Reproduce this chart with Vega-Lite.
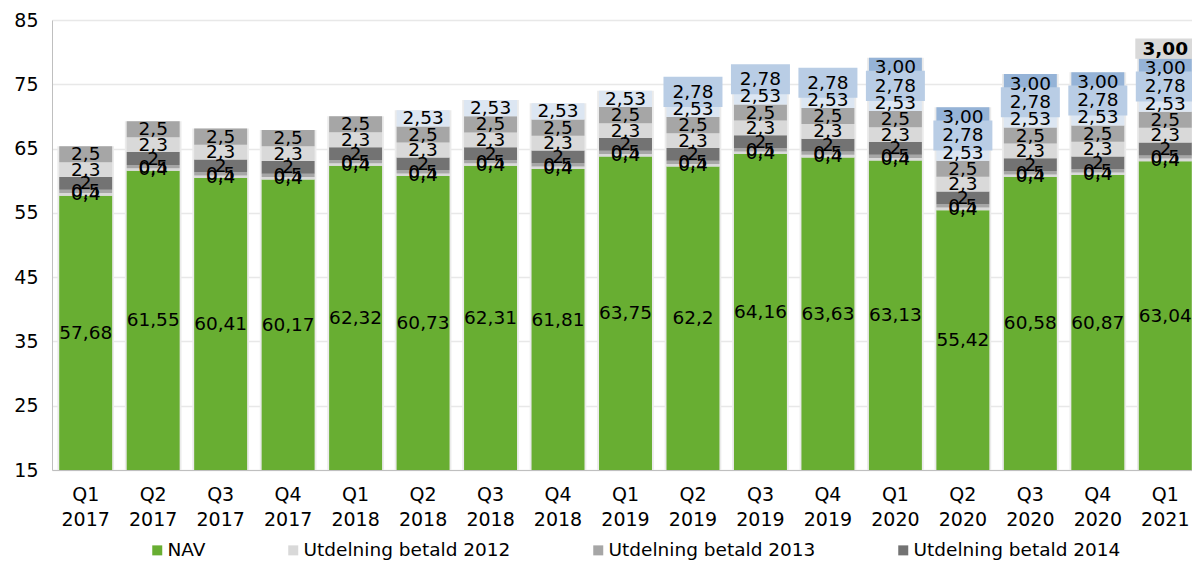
{
  "$schema": "https://vega.github.io/schema/vega-lite/v6.json",
  "width": 1147,
  "height": 450,
  "autosize": {"type": "none"},
  "padding": {"left": 52, "top": 20, "right": 0, "bottom": 92},
  "background": "#ffffff",
  "config": {"view": {"stroke": null}, "font": "DejaVu Sans"},
  "data": {"values": [
    {"q":"Q1 2017","s":"NAV","v":57.68,"t":"57,68"},
    {"q":"Q1 2017","s":"Utdelning betald 2012","v":0.4,"t":"0,4"},
    {"q":"Q1 2017","s":"Utdelning betald 2013","v":0.5,"t":"0,5"},
    {"q":"Q1 2017","s":"Utdelning betald 2014","v":2,"t":"2"},
    {"q":"Q1 2017","s":"Utdelning betald 2015","v":2.3,"t":"2,3"},
    {"q":"Q1 2017","s":"Utdelning betald 2016","v":2.5,"t":"2,5"},
    {"q":"Q2 2017","s":"NAV","v":61.55,"t":"61,55"},
    {"q":"Q2 2017","s":"Utdelning betald 2012","v":0.4,"t":"0,4"},
    {"q":"Q2 2017","s":"Utdelning betald 2013","v":0.5,"t":"0,5"},
    {"q":"Q2 2017","s":"Utdelning betald 2014","v":2,"t":"2"},
    {"q":"Q2 2017","s":"Utdelning betald 2015","v":2.3,"t":"2,3"},
    {"q":"Q2 2017","s":"Utdelning betald 2016","v":2.5,"t":"2,5"},
    {"q":"Q3 2017","s":"NAV","v":60.41,"t":"60,41"},
    {"q":"Q3 2017","s":"Utdelning betald 2012","v":0.4,"t":"0,4"},
    {"q":"Q3 2017","s":"Utdelning betald 2013","v":0.5,"t":"0,5"},
    {"q":"Q3 2017","s":"Utdelning betald 2014","v":2,"t":"2"},
    {"q":"Q3 2017","s":"Utdelning betald 2015","v":2.3,"t":"2,3"},
    {"q":"Q3 2017","s":"Utdelning betald 2016","v":2.5,"t":"2,5"},
    {"q":"Q4 2017","s":"NAV","v":60.17,"t":"60,17"},
    {"q":"Q4 2017","s":"Utdelning betald 2012","v":0.4,"t":"0,4"},
    {"q":"Q4 2017","s":"Utdelning betald 2013","v":0.5,"t":"0,5"},
    {"q":"Q4 2017","s":"Utdelning betald 2014","v":2,"t":"2"},
    {"q":"Q4 2017","s":"Utdelning betald 2015","v":2.3,"t":"2,3"},
    {"q":"Q4 2017","s":"Utdelning betald 2016","v":2.5,"t":"2,5"},
    {"q":"Q1 2018","s":"NAV","v":62.32,"t":"62,32"},
    {"q":"Q1 2018","s":"Utdelning betald 2012","v":0.4,"t":"0,4"},
    {"q":"Q1 2018","s":"Utdelning betald 2013","v":0.5,"t":"0,5"},
    {"q":"Q1 2018","s":"Utdelning betald 2014","v":2,"t":"2"},
    {"q":"Q1 2018","s":"Utdelning betald 2015","v":2.3,"t":"2,3"},
    {"q":"Q1 2018","s":"Utdelning betald 2016","v":2.5,"t":"2,5"},
    {"q":"Q2 2018","s":"NAV","v":60.73,"t":"60,73"},
    {"q":"Q2 2018","s":"Utdelning betald 2012","v":0.4,"t":"0,4"},
    {"q":"Q2 2018","s":"Utdelning betald 2013","v":0.5,"t":"0,5"},
    {"q":"Q2 2018","s":"Utdelning betald 2014","v":2,"t":"2"},
    {"q":"Q2 2018","s":"Utdelning betald 2015","v":2.3,"t":"2,3"},
    {"q":"Q2 2018","s":"Utdelning betald 2016","v":2.5,"t":"2,5"},
    {"q":"Q2 2018","s":"Utdelning betald 2017","v":2.53,"t":"2,53"},
    {"q":"Q3 2018","s":"NAV","v":62.31,"t":"62,31"},
    {"q":"Q3 2018","s":"Utdelning betald 2012","v":0.4,"t":"0,4"},
    {"q":"Q3 2018","s":"Utdelning betald 2013","v":0.5,"t":"0,5"},
    {"q":"Q3 2018","s":"Utdelning betald 2014","v":2,"t":"2"},
    {"q":"Q3 2018","s":"Utdelning betald 2015","v":2.3,"t":"2,3"},
    {"q":"Q3 2018","s":"Utdelning betald 2016","v":2.5,"t":"2,5"},
    {"q":"Q3 2018","s":"Utdelning betald 2017","v":2.53,"t":"2,53"},
    {"q":"Q4 2018","s":"NAV","v":61.81,"t":"61,81"},
    {"q":"Q4 2018","s":"Utdelning betald 2012","v":0.4,"t":"0,4"},
    {"q":"Q4 2018","s":"Utdelning betald 2013","v":0.5,"t":"0,5"},
    {"q":"Q4 2018","s":"Utdelning betald 2014","v":2,"t":"2"},
    {"q":"Q4 2018","s":"Utdelning betald 2015","v":2.3,"t":"2,3"},
    {"q":"Q4 2018","s":"Utdelning betald 2016","v":2.5,"t":"2,5"},
    {"q":"Q4 2018","s":"Utdelning betald 2017","v":2.53,"t":"2,53"},
    {"q":"Q1 2019","s":"NAV","v":63.75,"t":"63,75"},
    {"q":"Q1 2019","s":"Utdelning betald 2012","v":0.4,"t":"0,4"},
    {"q":"Q1 2019","s":"Utdelning betald 2013","v":0.5,"t":"0,5"},
    {"q":"Q1 2019","s":"Utdelning betald 2014","v":2,"t":"2"},
    {"q":"Q1 2019","s":"Utdelning betald 2015","v":2.3,"t":"2,3"},
    {"q":"Q1 2019","s":"Utdelning betald 2016","v":2.5,"t":"2,5"},
    {"q":"Q1 2019","s":"Utdelning betald 2017","v":2.53,"t":"2,53"},
    {"q":"Q2 2019","s":"NAV","v":62.2,"t":"62,2"},
    {"q":"Q2 2019","s":"Utdelning betald 2012","v":0.4,"t":"0,4"},
    {"q":"Q2 2019","s":"Utdelning betald 2013","v":0.5,"t":"0,5"},
    {"q":"Q2 2019","s":"Utdelning betald 2014","v":2,"t":"2"},
    {"q":"Q2 2019","s":"Utdelning betald 2015","v":2.3,"t":"2,3"},
    {"q":"Q2 2019","s":"Utdelning betald 2016","v":2.5,"t":"2,5"},
    {"q":"Q2 2019","s":"Utdelning betald 2017","v":2.53,"t":"2,53"},
    {"q":"Q2 2019","s":"Utdelning betald 2018","v":2.78,"t":"2,78"},
    {"q":"Q3 2019","s":"NAV","v":64.16,"t":"64,16"},
    {"q":"Q3 2019","s":"Utdelning betald 2012","v":0.4,"t":"0,4"},
    {"q":"Q3 2019","s":"Utdelning betald 2013","v":0.5,"t":"0,5"},
    {"q":"Q3 2019","s":"Utdelning betald 2014","v":2,"t":"2"},
    {"q":"Q3 2019","s":"Utdelning betald 2015","v":2.3,"t":"2,3"},
    {"q":"Q3 2019","s":"Utdelning betald 2016","v":2.5,"t":"2,5"},
    {"q":"Q3 2019","s":"Utdelning betald 2017","v":2.53,"t":"2,53"},
    {"q":"Q3 2019","s":"Utdelning betald 2018","v":2.78,"t":"2,78"},
    {"q":"Q4 2019","s":"NAV","v":63.63,"t":"63,63"},
    {"q":"Q4 2019","s":"Utdelning betald 2012","v":0.4,"t":"0,4"},
    {"q":"Q4 2019","s":"Utdelning betald 2013","v":0.5,"t":"0,5"},
    {"q":"Q4 2019","s":"Utdelning betald 2014","v":2,"t":"2"},
    {"q":"Q4 2019","s":"Utdelning betald 2015","v":2.3,"t":"2,3"},
    {"q":"Q4 2019","s":"Utdelning betald 2016","v":2.5,"t":"2,5"},
    {"q":"Q4 2019","s":"Utdelning betald 2017","v":2.53,"t":"2,53"},
    {"q":"Q4 2019","s":"Utdelning betald 2018","v":2.78,"t":"2,78"},
    {"q":"Q1 2020","s":"NAV","v":63.13,"t":"63,13"},
    {"q":"Q1 2020","s":"Utdelning betald 2012","v":0.4,"t":"0,4"},
    {"q":"Q1 2020","s":"Utdelning betald 2013","v":0.5,"t":"0,5"},
    {"q":"Q1 2020","s":"Utdelning betald 2014","v":2,"t":"2"},
    {"q":"Q1 2020","s":"Utdelning betald 2015","v":2.3,"t":"2,3"},
    {"q":"Q1 2020","s":"Utdelning betald 2016","v":2.5,"t":"2,5"},
    {"q":"Q1 2020","s":"Utdelning betald 2017","v":2.53,"t":"2,53"},
    {"q":"Q1 2020","s":"Utdelning betald 2018","v":2.78,"t":"2,78"},
    {"q":"Q1 2020","s":"Utdelning betald 2019","v":3,"t":"3,00"},
    {"q":"Q2 2020","s":"NAV","v":55.42,"t":"55,42"},
    {"q":"Q2 2020","s":"Utdelning betald 2012","v":0.4,"t":"0,4"},
    {"q":"Q2 2020","s":"Utdelning betald 2013","v":0.5,"t":"0,5"},
    {"q":"Q2 2020","s":"Utdelning betald 2014","v":2,"t":"2"},
    {"q":"Q2 2020","s":"Utdelning betald 2015","v":2.3,"t":"2,3"},
    {"q":"Q2 2020","s":"Utdelning betald 2016","v":2.5,"t":"2,5"},
    {"q":"Q2 2020","s":"Utdelning betald 2017","v":2.53,"t":"2,53"},
    {"q":"Q2 2020","s":"Utdelning betald 2018","v":2.78,"t":"2,78"},
    {"q":"Q2 2020","s":"Utdelning betald 2019","v":3,"t":"3,00"},
    {"q":"Q3 2020","s":"NAV","v":60.58,"t":"60,58"},
    {"q":"Q3 2020","s":"Utdelning betald 2012","v":0.4,"t":"0,4"},
    {"q":"Q3 2020","s":"Utdelning betald 2013","v":0.5,"t":"0,5"},
    {"q":"Q3 2020","s":"Utdelning betald 2014","v":2,"t":"2"},
    {"q":"Q3 2020","s":"Utdelning betald 2015","v":2.3,"t":"2,3"},
    {"q":"Q3 2020","s":"Utdelning betald 2016","v":2.5,"t":"2,5"},
    {"q":"Q3 2020","s":"Utdelning betald 2017","v":2.53,"t":"2,53"},
    {"q":"Q3 2020","s":"Utdelning betald 2018","v":2.78,"t":"2,78"},
    {"q":"Q3 2020","s":"Utdelning betald 2019","v":3,"t":"3,00"},
    {"q":"Q4 2020","s":"NAV","v":60.87,"t":"60,87"},
    {"q":"Q4 2020","s":"Utdelning betald 2012","v":0.4,"t":"0,4"},
    {"q":"Q4 2020","s":"Utdelning betald 2013","v":0.5,"t":"0,5"},
    {"q":"Q4 2020","s":"Utdelning betald 2014","v":2,"t":"2"},
    {"q":"Q4 2020","s":"Utdelning betald 2015","v":2.3,"t":"2,3"},
    {"q":"Q4 2020","s":"Utdelning betald 2016","v":2.5,"t":"2,5"},
    {"q":"Q4 2020","s":"Utdelning betald 2017","v":2.53,"t":"2,53"},
    {"q":"Q4 2020","s":"Utdelning betald 2018","v":2.78,"t":"2,78"},
    {"q":"Q4 2020","s":"Utdelning betald 2019","v":3,"t":"3,00"},
    {"q":"Q1 2021","s":"NAV","v":63.04,"t":"63,04"},
    {"q":"Q1 2021","s":"Utdelning betald 2012","v":0.4,"t":"0,4"},
    {"q":"Q1 2021","s":"Utdelning betald 2013","v":0.5,"t":"0,5"},
    {"q":"Q1 2021","s":"Utdelning betald 2014","v":2,"t":"2"},
    {"q":"Q1 2021","s":"Utdelning betald 2015","v":2.3,"t":"2,3"},
    {"q":"Q1 2021","s":"Utdelning betald 2016","v":2.5,"t":"2,5"},
    {"q":"Q1 2021","s":"Utdelning betald 2017","v":2.53,"t":"2,53"},
    {"q":"Q1 2021","s":"Utdelning betald 2018","v":2.78,"t":"2,78"},
    {"q":"Q1 2021","s":"Utdelning betald 2019","v":3,"t":"3,00"},
    {"q":"Q1 2021","s":"Utdelning betald 2020","v":3,"t":"3,00"}
  ]},
  "transform": [
    {"stack": "v", "groupby": ["q"], "sort": [{"field": "s", "order": "ascending"}], "as": ["y0", "y1"]},
    {"calculate": "(max(datum.y0, 15) + datum.y1) / 2", "as": "ym"}
  ],
  "encoding": {
    "x": {
      "field": "q", "type": "nominal",
      "sort": ["Q1 2017","Q2 2017","Q3 2017","Q4 2017","Q1 2018","Q2 2018","Q3 2018","Q4 2018","Q1 2019","Q2 2019","Q3 2019","Q4 2019","Q1 2020","Q2 2020","Q3 2020","Q4 2020","Q1 2021"],
      "scale": {"paddingInner": 0.215, "paddingOuter": 0.107},
      "axis": {
        "title": null, "labelAngle": 0, "ticks": false,
        "labelExpr": "split(datum.label, ' ')",
        "labelFont": "DejaVu Sans", "labelFontSize": 19, "labelColor": "#000000",
        "labelLineHeight": 25, "labelPadding": 15,
        "domainColor": "#bfbfbf", "domainWidth": 1
      }
    }
  },
  "layer": [
    {
      "mark": {"type": "bar", "color": "#ebebeb", "width": {"band": 1.07}, "clip": true},
      "encoding": {
        "y": {"aggregate": "max", "field": "y1", "type": "quantitative", "scale": {"domain": [15, 85], "nice": false, "zero": false},
          "title": null,
          "axis": {
            "values": [15, 25, 35, 45, 55, 65, 75, 85],
            "labelFont": "DejaVu Sans", "labelFontSize": 19, "labelColor": "#000000",
            "labelPadding": 14, "ticks": false,
            "grid": true, "gridColor": "#e8e8e8", "gridWidth": 1.5,
            "domainColor": "#bfbfbf", "domainWidth": 1
          }
        }
      }
    },
    {
      "mark": {"type": "bar", "clip": true},
      "encoding": {
        "y": {"field": "y0", "type": "quantitative", "scale": {"domain": [15, 85], "nice": false, "zero": false}, "title": null},
        "y2": {"field": "y1"},
        "color": {
          "field": "s", "type": "nominal",
          "scale": {
            "domain": ["NAV","Utdelning betald 2012","Utdelning betald 2013","Utdelning betald 2014","Utdelning betald 2015","Utdelning betald 2016","Utdelning betald 2017","Utdelning betald 2018","Utdelning betald 2019","Utdelning betald 2020"],
            "range": ["#68ae32","#d9d9d9","#a6a6a6","#737373","#d9d9d9","#a6a6a6","#dce6f2","#b9cde5","#95b3d7","#d9d9d9"]
          },
          "legend": {
            "values": ["NAV","Utdelning betald 2012","Utdelning betald 2013","Utdelning betald 2014"],
            "title": null, "orient": "none", "legendX": 96, "legendY": 521,
            "direction": "horizontal", "columns": 4, "columnPadding": 78, "gridAlign": "each",
            "symbolType": "square", "symbolSize": 100, "symbolStrokeWidth": 0,
            "labelFont": "DejaVu Sans", "labelFontSize": 18.5, "labelColor": "#000000", "labelOffset": 1, "labelLimit": 400
          }
        }
      }
    },
    {
      "transform": [{"filter": "datum.s == 'Utdelning betald 2018'"}],
      "mark": {"type": "point", "shape": "M-1,-0.51H1V0.51H-1Z", "size": 3481, "filled": true, "fill": "#b9cde5", "opacity": 1, "strokeWidth": 0},
      "encoding": {
        "y": {"field": "ym", "type": "quantitative", "scale": {"domain": [15, 85], "nice": false, "zero": false}, "title": null}
      }
    },
    {
      "transform": [{"filter": "datum.s == 'Utdelning betald 2020'"}],
      "mark": {"type": "point", "shape": "M-1,-0.34H1V0.34H-1Z", "size": 3600, "filled": true, "fill": "#d9d9d9", "opacity": 1, "strokeWidth": 0},
      "encoding": {
        "y": {"field": "ym", "type": "quantitative", "scale": {"domain": [15, 85], "nice": false, "zero": false}, "title": null}
      }
    },
    {
      "transform": [{"filter": "datum.s != 'Utdelning betald 2020'"}],
      "mark": {"type": "text", "font": "DejaVu Sans", "fontSize": 18.5, "color": "#000000", "baseline": "middle", "align": "center"},
      "encoding": {
        "y": {"field": "ym", "type": "quantitative", "scale": {"domain": [15, 85], "nice": false, "zero": false}, "title": null},
        "text": {"field": "t", "type": "nominal"}
      }
    },
    {
      "transform": [{"filter": "datum.s == 'Utdelning betald 2020'"}],
      "mark": {"type": "text", "font": "DejaVu Sans", "fontSize": 18.5, "fontWeight": "bold", "color": "#000000", "baseline": "middle", "align": "center"},
      "encoding": {
        "y": {"field": "ym", "type": "quantitative", "scale": {"domain": [15, 85], "nice": false, "zero": false}, "title": null},
        "text": {"field": "t", "type": "nominal"}
      }
    }
  ]
}
